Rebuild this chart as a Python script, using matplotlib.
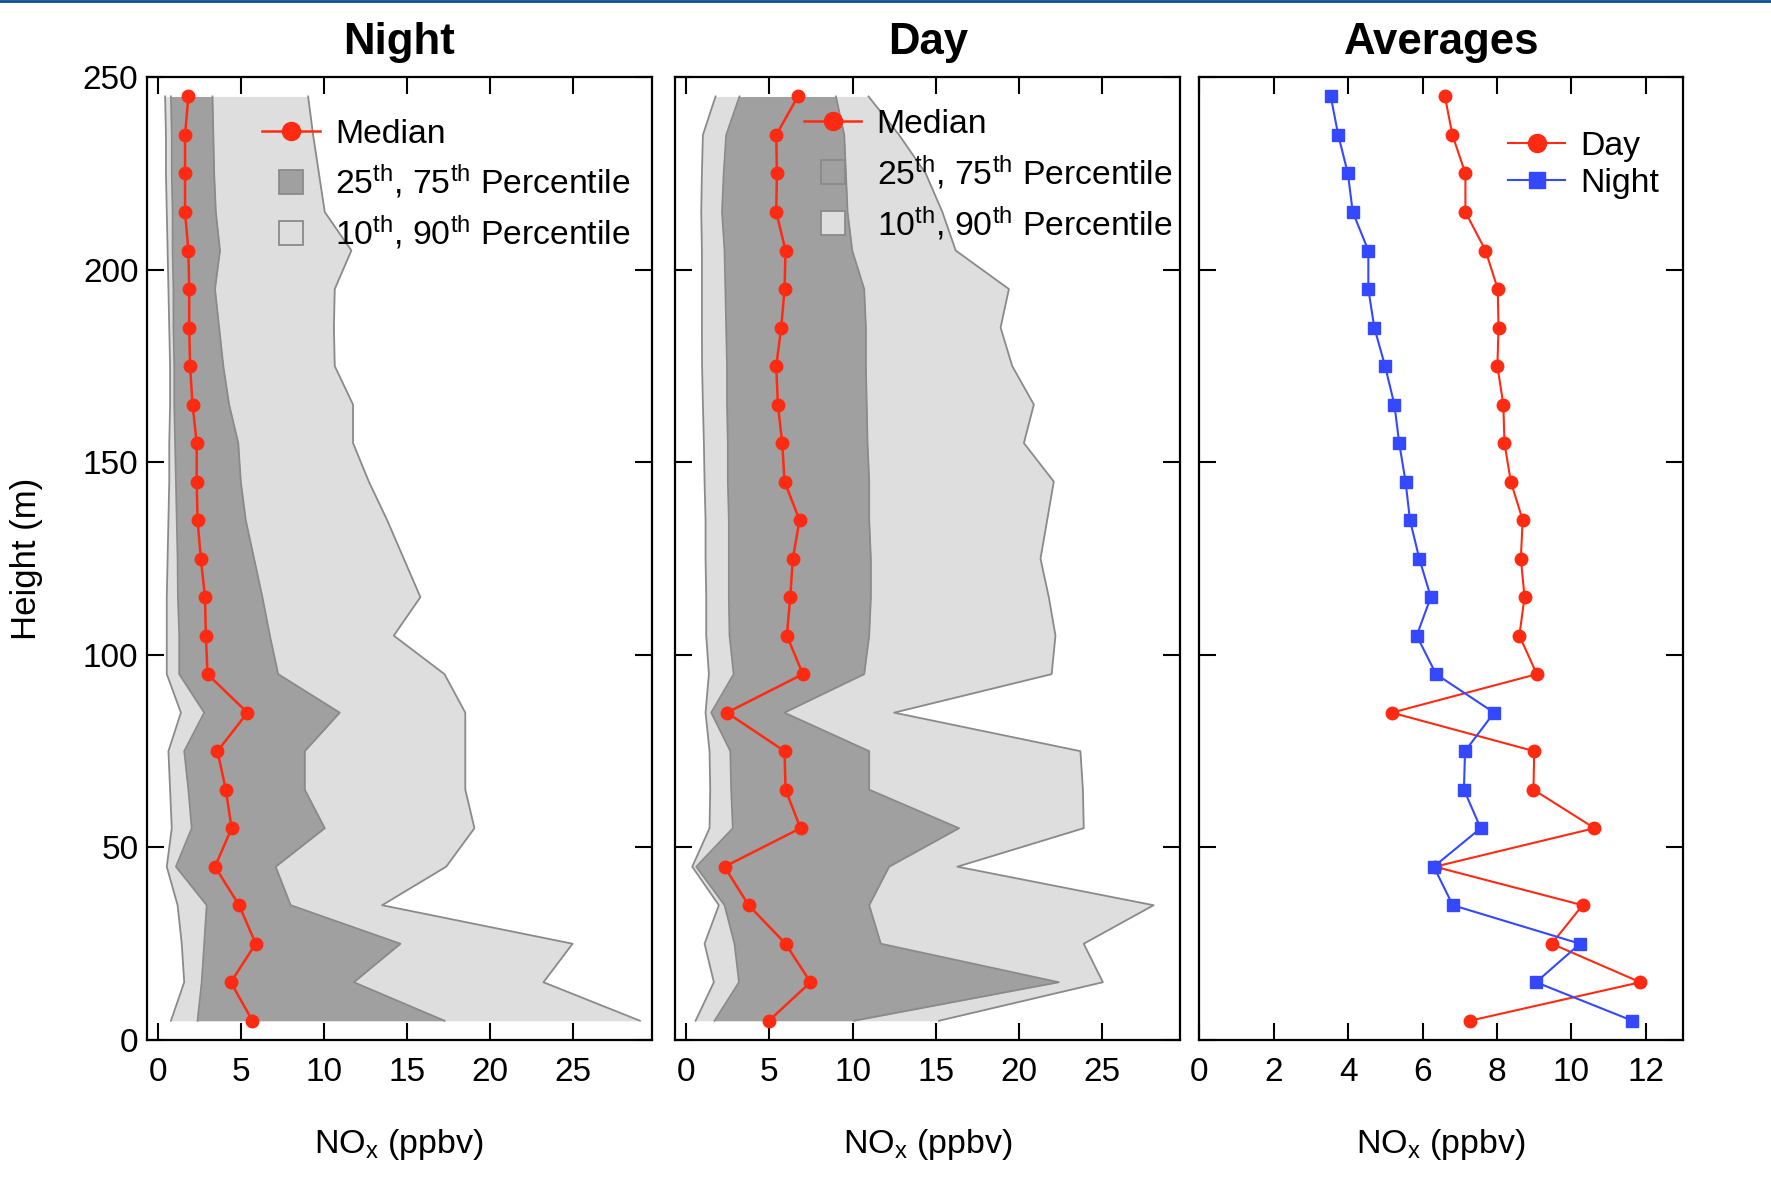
import matplotlib
matplotlib.use("Agg")
import matplotlib.pyplot as plt
from matplotlib.lines import Line2D

plt.rcParams['font.family'] = ['Liberation Sans', 'DejaVu Sans']
plt.rcParams['mathtext.fontset'] = 'custom'
plt.rcParams['mathtext.rm'] = 'Liberation Sans'
plt.rcParams['mathtext.it'] = 'Liberation Sans:italic'

# alturas (m), de baixo para cima
heights = [5, 15, 25, 35, 45, 55, 65, 75, 85, 95, 105, 115, 125,
           135, 145, 155, 165, 175, 185, 195, 205, 215, 225, 235, 245]

# Noite - percentis de NOx (ppbv)
night_med = [5.7, 4.4, 5.9, 4.9, 3.45, 4.45, 4.1, 3.6, 5.4, 3.0, 2.9, 2.85, 2.6,
             2.4, 2.35, 2.35, 2.1, 1.95, 1.9, 1.9, 1.85, 1.65, 1.65, 1.65, 1.85]
night_p25 = [2.4, 2.65, 2.8, 2.95, 1.1, 2.05, 1.85, 1.6, 2.8, 1.3, 1.3, 1.22, 1.2,
             1.15, 1.1, 1.05, 1.0, 1.0, 0.95, 0.95, 0.9, 0.9, 0.85, 0.85, 0.8]
night_p75 = [17.25, 11.8, 14.6, 8.0, 7.1, 10.05, 8.85, 8.85, 10.95, 7.25, 6.75, 6.3, 5.8,
             5.3, 5.0, 4.85, 4.3, 3.95, 3.7, 3.45, 3.75, 3.5, 3.4, 3.35, 3.3]
night_p10 = [0.8, 1.6, 1.45, 1.2, 0.55, 0.85, 0.75, 0.65, 1.4, 0.55, 0.55, 0.55, 0.6,
             0.65, 0.7, 0.7, 0.75, 0.75, 0.7, 0.65, 0.6, 0.55, 0.5, 0.5, 0.45]
night_p90 = [29.0, 23.2, 24.95, 13.5, 17.35, 19.05, 18.5, 18.5, 18.5, 17.25, 14.2, 15.8, 14.8,
             13.8, 12.7, 11.75, 11.75, 10.65, 10.6, 10.65, 11.65, 10.05, 9.7, 9.35, 9.05]

# Dia - percentis de NOx (ppbv)
day_med = [4.97, 7.47, 5.97, 3.75, 2.3, 6.87, 5.97, 5.91, 2.44, 7.01, 6.05, 6.25, 6.41,
           6.81, 5.91, 5.77, 5.51, 5.41, 5.71, 5.91, 5.97, 5.41, 5.45, 5.41, 6.71]
day_p25 = [1.7, 3.17, 2.9, 2.3, 0.6, 2.8, 2.7, 2.65, 1.5, 2.85, 2.6, 2.56, 2.56,
           2.56, 2.5, 2.5, 2.45, 2.45, 2.4, 2.35, 2.3, 2.15, 2.25, 2.4, 3.2]
day_p75 = [10.1, 22.4, 11.7, 11.0, 12.2, 16.4, 11.0, 11.0, 5.9, 10.7, 11.0, 11.1, 11.1,
           11.0, 11.0, 10.9, 10.85, 10.8, 10.8, 10.7, 9.98, 9.7, 9.6, 9.5, 9.0]
day_p10 = [0.56, 1.66, 1.1, 1.96, 0.36, 1.4, 1.44, 1.4, 1.16, 1.36, 1.2, 1.2, 1.16,
           1.16, 1.1, 1.06, 1.0, 0.95, 0.94, 0.94, 0.94, 0.9, 0.94, 1.0, 1.76]
day_p90 = [15.2, 25.05, 23.9, 28.1, 16.3, 23.9, 23.85, 23.7, 12.5, 21.97, 22.2, 21.8, 21.3,
           21.7, 22.1, 20.3, 20.9, 19.6, 18.9, 19.4, 16.2, 15.4, 14.4, 12.8, 10.96]

# medias
avg_day = [7.27, 11.85, 9.47, 10.30, 6.33, 10.62, 8.98, 9.0, 5.17, 9.07, 8.60, 8.74, 8.64,
           8.69, 8.37, 8.20, 8.17, 8.01, 8.04, 8.02, 7.69, 7.15, 7.15, 6.80, 6.60]
avg_night = [11.64, 9.05, 10.23, 6.81, 6.30, 7.56, 7.11, 7.14, 7.92, 6.36, 5.84, 6.22, 5.91,
             5.66, 5.54, 5.37, 5.24, 4.99, 4.70, 4.54, 4.54, 4.12, 3.99, 3.73, 3.53]

RED = '#ff2a12'
BLUE = '#3348ff'
DARK = '#a0a0a0'
LIGHT = '#dedede'
EDGE = '#8a8a8a'

fig = plt.figure(figsize=(17.71, 11.77), dpi=100)
ax1 = fig.add_axes([0.0829, 0.1164, 0.285, 0.818])
ax2 = fig.add_axes([0.3814, 0.1164, 0.285, 0.818])
ax3 = fig.add_axes([0.6773, 0.1164, 0.273, 0.818])

# linha azul no topo
fig.add_artist(Line2D([0, 1], [0.9992, 0.9992], transform=fig.transFigure,
                      color='#0b4f8f', lw=2))

def estilo(ax, titulo, xlim, xticks):
    ax.set_xlim(*xlim)
    ax.set_ylim(0, 250)
    ax.set_xticks(xticks)
    ax.set_yticks([0, 50, 100, 150, 200, 250])
    ax.tick_params(direction='in', length=12, width=1.5, top=True, right=True,
                   labelsize=24)
    ax.tick_params(axis='x', pad=12)
    ax.tick_params(axis='y', pad=6)
    for s in ax.spines.values():
        s.set_linewidth(1.6)
    ax.set_title(titulo, fontsize=31.5, fontweight='bold', pad=17)
    ax.set_xlabel(r'NO$_{\mathrm{x}}$ (ppbv)', fontsize=24.5)
    ax.xaxis.set_label_coords(0.5, -0.09)

def perfil(ax, p10, p25, med, p75, p90):
    ax.fill_betweenx(heights, p10, p90, color=LIGHT, lw=0)
    ax.fill_betweenx(heights, p25, p75, color=DARK, lw=0)
    for serie in (p10, p90, p25, p75):
        ax.plot(serie, heights, color=EDGE, lw=1.3)
    ax.plot(med, heights, color=RED, lw=1.8, marker='o', ms=9)

perfil(ax1, night_p10, night_p25, night_med, night_p75, night_p90)
perfil(ax2, day_p10, day_p25, day_med, day_p75, day_p90)

ax3.plot(avg_day, heights, color=RED, lw=1.5, marker='o', ms=9, label='Day')
ax3.plot(avg_night, heights, color=BLUE, lw=1.5, marker='s', ms=9, label='Night')

estilo(ax1, 'Night', (-0.65, 29.7), [0, 5, 10, 15, 20, 25])
estilo(ax2, 'Day', (-0.65, 29.7), [0, 5, 10, 15, 20, 25])
estilo(ax3, 'Averages', (0, 13), [0, 2, 4, 6, 8, 10, 12])
ax2.tick_params(labelleft=False)
ax3.tick_params(labelleft=False)
ax1.set_ylabel('Height (m)', fontsize=25)
ax1.yaxis.set_label_coords(-0.205, 0.5)

# legendas
handles = [Line2D([], [], color=RED, lw=1.8, marker='o', ms=13),
           Line2D([], [], ls='none', marker='s', ms=17, mfc=DARK, mec=EDGE, mew=1.3),
           Line2D([], [], ls='none', marker='s', ms=17, mfc=LIGHT, mec=EDGE, mew=1.3)]
labels = ['Median', r'25$^{\mathrm{th}}$, 75$^{\mathrm{th}}$ Percentile',
          r'10$^{\mathrm{th}}$, 90$^{\mathrm{th}}$ Percentile']
ax1.legend(handles, labels, loc='upper left', bbox_to_anchor=(0.229, 0.957),
           frameon=False, fontsize=24.3, handlelength=1.7, handletextpad=0.45,
           labelspacing=0.39, borderpad=0, borderaxespad=0)
ax2.legend(handles, labels, loc='upper left', bbox_to_anchor=(0.2546, 0.967),
           frameon=False, fontsize=24.3, handlelength=1.7, handletextpad=0.45,
           labelspacing=0.39, borderpad=0, borderaxespad=0)
h3 = [Line2D([], [], color=RED, lw=1.5, marker='o', ms=13),
      Line2D([], [], color=BLUE, lw=1.5, marker='s', ms=12)]
ax3.legend(h3, ['Day', 'Night'], loc='upper left', bbox_to_anchor=(0.638, 0.944),
           frameon=False, fontsize=24.3, handlelength=1.7, handletextpad=0.45,
           labelspacing=0.17, borderpad=0, borderaxespad=0)

plt.savefig('out.png', dpi=100)
